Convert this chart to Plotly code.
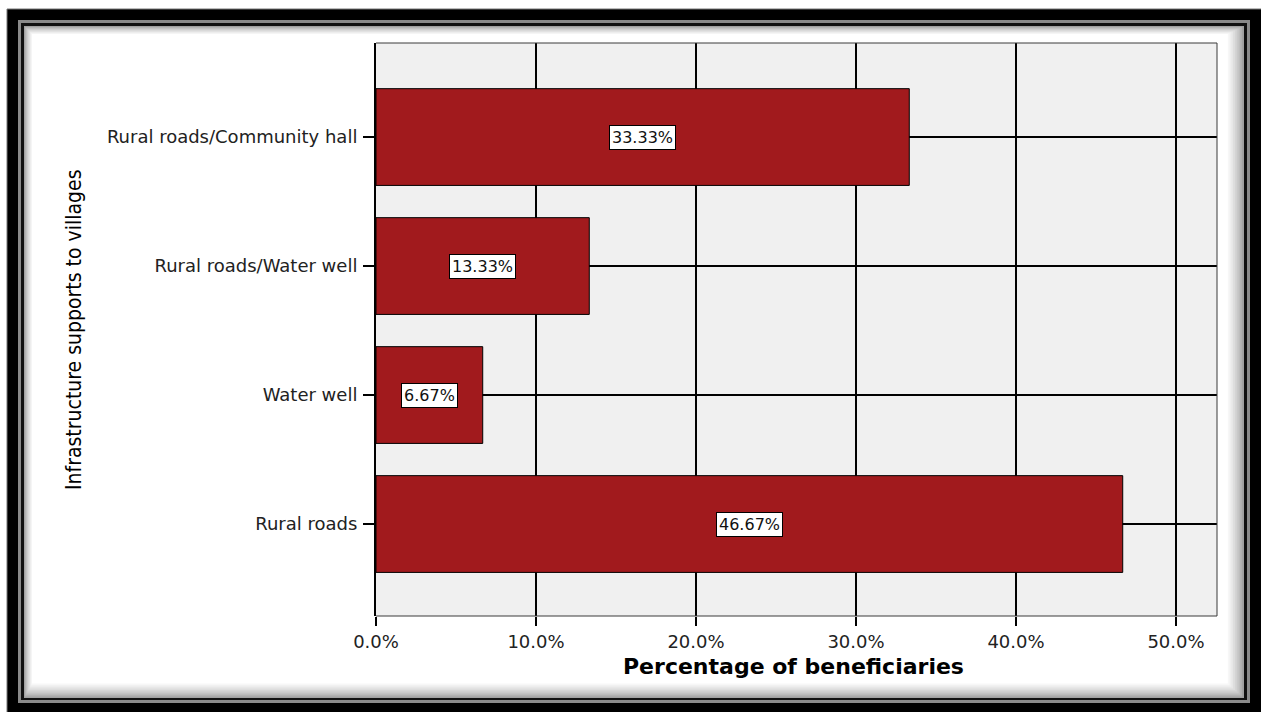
import plotly.graph_objects as go

# Data
categories = ["Rural roads", "Water well", "Rural roads/Water well", "Rural roads/Community hall"]
percentages = [46.67, 6.67, 13.33, 33.33]
x_ticks = [0, 10, 20, 30, 40, 50]

W, H = 1261, 712
L, R, T, B = 376, 1217, 43, 616  # plot area in pixels


def px(x):
    return (x - L) / (R - L)


def py(y):
    return (B - y) / (B - T)


BAR_COLOR = "#A11A1D"
SANS = "DejaVu Sans, Verdana, sans-serif"
TICK_FONT = dict(family=SANS, size=18, color="#222222")

fig = go.Figure()
fig.add_trace(go.Bar(
    x=percentages,
    y=categories,
    orientation="h",
    width=0.75,
    marker=dict(color=BAR_COLOR, line=dict(color="black", width=1)),
    hoverinfo="skip",
))

# Framed border with an inner drop shadow
shapes = []
shapes.append(dict(type="rect", xref="paper", yref="paper",
                   x0=px(7), x1=px(1270), y0=py(9), y1=py(720),
                   fillcolor="black", line=dict(color="#777777", width=1), layer="below"))
shapes.append(dict(type="rect", xref="paper", yref="paper",
                   x0=px(18), x1=px(1250), y0=py(20), y1=py(703),
                   fillcolor="#8a8a8a", line=dict(width=0), layer="below"))
shapes.append(dict(type="rect", xref="paper", yref="paper",
                   x0=px(21), x1=px(1247), y0=py(23), y1=py(700),
                   fillcolor="#111111", line=dict(width=0), layer="below"))
steps = 10
for i in range(steps):
    t = (i + 1) / steps
    g = int(round(0x80 + (0xFF - 0x80) * (t ** 0.6)))
    col = f"rgb({g},{g},{g})"
    shapes.append(dict(type="rect", xref="paper", yref="paper",
                       x0=px(24 + i * 0.9), x1=px(1244 - i * 1.8),
                       y0=py(26 + i * 0.9), y1=py(698 - i * 1.6),
                       fillcolor=col, line=dict(width=0), layer="below"))
# plot background panel
shapes.append(dict(type="rect", xref="paper", yref="paper",
                   x0=0, x1=1, y0=0, y1=1,
                   fillcolor="#F0F0F0", line=dict(width=0), layer="below"))
# thin panel border (top, right, bottom)
shapes.append(dict(type="path", xref="paper", yref="paper",
                   path="M 0 1 L 1 1 L 1 0 L 0 0",
                   line=dict(color="#3a3a3a", width=1), layer="above"))

annotations = []
for cat, v in zip(categories, percentages):
    annotations.append(dict(
        x=v / 2, y=cat, xref="x", yref="y",
        xanchor="center", yanchor="middle",
        text=f"{v:.2f}%", showarrow=False,
        bgcolor="white", bordercolor="black", borderwidth=1, borderpad=2,
        font=dict(family=SANS, size=16, color="#111111"),
    ))

annotations.append(dict(
    x=px(793), y=py(666), xref="paper", yref="paper",
    xanchor="center", yanchor="middle",
    text="<b>Percentage of beneficiaries</b>", showarrow=False,
    font=dict(family=SANS, size=22, color="black"),
))
annotations.append(dict(
    x=px(74), y=py(330), xref="paper", yref="paper",
    xanchor="center", yanchor="middle",
    text="Infrastructure supports to villages", showarrow=False, textangle=-90,
    font=dict(family="Liberation Sans Narrow, DejaVu Sans Condensed, Arial Narrow, sans-serif",
              size=21, color="black"),
))

fig.update_layout(
    width=W, height=H,
    margin=dict(l=L, r=W - R, t=T, b=H - B, pad=0),
    paper_bgcolor="white",
    plot_bgcolor="#F0F0F0",
    showlegend=False,
    bargap=0.25,
    shapes=shapes,
    annotations=annotations,
    xaxis=dict(
        range=[0, (R - L) / 16.0],
        tickvals=x_ticks,
        ticktext=[f"{v:.1f}%" for v in x_ticks],
        showgrid=True, gridcolor="black", gridwidth=2,
        zeroline=False,
        ticks="outside", ticklen=9, tickwidth=2, tickcolor="black",
        tickfont=TICK_FONT,
        showline=False,
        fixedrange=True,
    ),
    yaxis=dict(
        type="category",
        categoryorder="array", categoryarray=categories,
        range=[-0.713, 3.729],
        showgrid=True, gridcolor="black", gridwidth=2,
        zeroline=False,
        ticks="outside", ticklen=11, tickwidth=2, tickcolor="black",
        tickfont=TICK_FONT,
        showline=True, linecolor="black", linewidth=2,
        ticklabelstandoff=2,
        fixedrange=True,
    ),
)

fig.write_html("out.html")
